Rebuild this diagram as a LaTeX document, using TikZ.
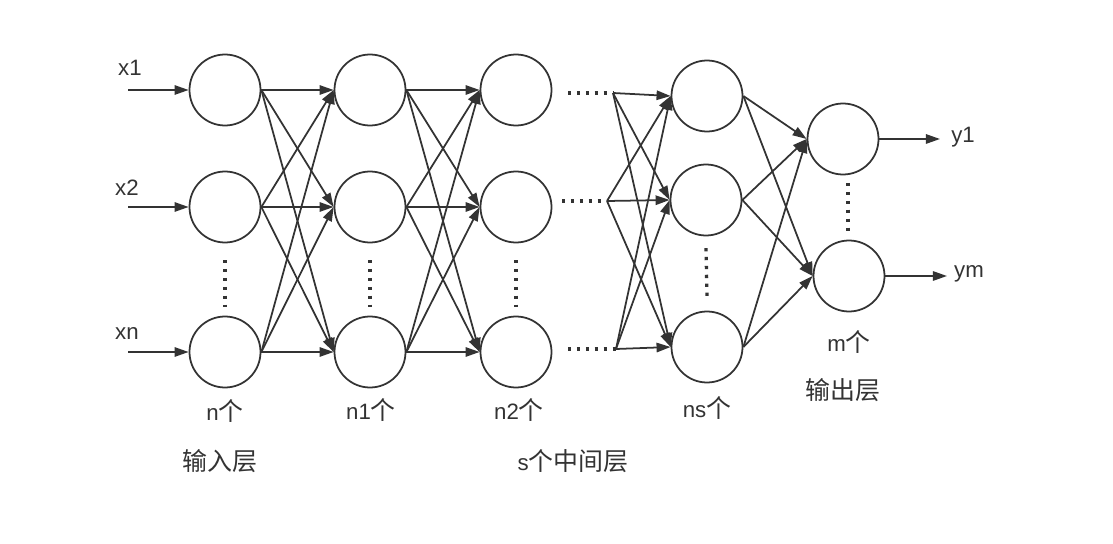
\documentclass[tikz,border=0pt]{standalone}
\usepackage{fontspec}
\setmainfont{Liberation Sans}
\newfontfamily\cjk[Scale=1.12]{Noto Sans CJK SC}
\usetikzlibrary{arrows.meta}
\definecolor{trait}{HTML}{333333}

\begin{document}
\begin{tikzpicture}[
    x=0.03cm, y=-0.03cm,
    color=trait, line width=1.5pt,
    font=\fontsize{19}{21}\selectfont,
    neurone/.style={draw, circle, minimum size=2.13cm, inner sep=0pt},
    fleche/.style={-{Triangle[length=12pt,width=8pt]}},
    pointilles/.style={line width=2.8pt, dash pattern=on 2.8pt off 4.8pt},
  ]
  \useasboundingbox (0,0) rectangle (1113,544);
  % couches d'entree, n1 et n2
  \foreach \i/\y in {1/90,2/207,3/352} {
    \node[neurone] (e\i) at (225,\y) {};
    \node[neurone] (a\i) at (370,\y) {};
    \node[neurone] (b\i) at (516,\y) {};
    \coordinate (x\i) at (128,\y);
    \draw[fleche] (x\i) -- (e\i);
  }
  \node[neurone] (c1) at (707,96) {};
  \node[neurone] (c2) at (706,200) {};
  \node[neurone] (c3) at (707,347) {};
  \node[neurone] (s1) at (843,139) {};
  \node[neurone] (s2) at (849,276) {};
  % pointilles entre n2 et ns
  \coordinate (q1) at (568,93);  \coordinate (p1) at (613,93);
  \coordinate (q2) at (562,201); \coordinate (p2) at (607,201);
  \coordinate (q3) at (568,349); \coordinate (p3) at (616,349);
  \foreach \i in {1,2,3} {
    \draw[pointilles] (q\i) -- (p\i);
    \foreach \j in {1,2,3} {
      \draw[fleche] (e\i.east) -- (a\j.west);
      \draw[fleche] (a\i.east) -- (b\j.west);
      \draw[fleche] (p\i) -- (c\j.west);
    }
    \draw[fleche] (c\i.east) -- (s1.west);
    \draw[fleche] (c\i.east) -- (s2.west);
  }
  \foreach \n in {e,a,b}
    \draw[pointilles] ([yshift=-0.5cm]\n2.south) -- ([yshift=0.25cm]\n3.north);
  \draw[pointilles] ([yshift=-0.35cm]c2.south) -- ([yshift=0.4cm]c3.north);
  \draw[pointilles] (848,183) -- (848,232);
  % sorties
  \coordinate (y1) at (940,139);
  \coordinate (ym) at (947,276);
  \draw[fleche] (s1) -- (y1);
  \draw[fleche] (s2) -- (ym);
  % etiquettes
  \node (lx1) at (130,68) {x1};
  \node (lx2) at (127,188) {x2};
  \node (lxn) at (127,334) {xn};
  \node (ly1) at (963,137) {y1};
  \node (lym) at (969,274) {ym};
  \node (ne) at (225,411) {n{\cjk 个}};
  \node (na) at (371,410) {n1{\cjk 个}};
  \node (nb) at (519,410) {n2{\cjk 个}};
  \node (nc) at (707,408) {ns{\cjk 个}};
  \node (ns) at (849,342) {m{\cjk 个}};
  \node (tin) at (220,461) {\cjk 输入层};
  \node (tmid) at (573,461) {s{\cjk 个中间层}};
  \node (tout) at (843,390) {\cjk 输出层};
\end{tikzpicture}
\end{document}
